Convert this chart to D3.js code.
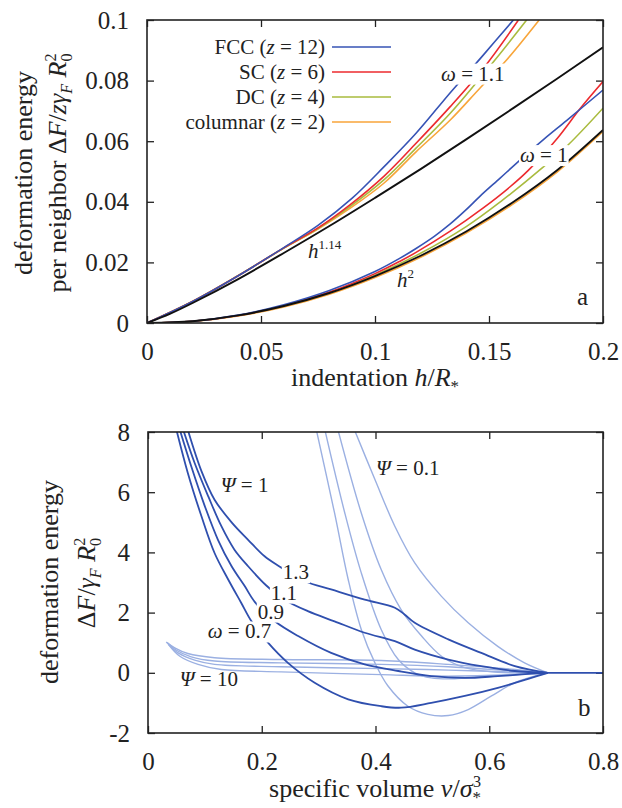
<!DOCTYPE html>
<html><head><meta charset="utf-8">
<script src="https://cdn.jsdelivr.net/npm/d3@7"></script>
<style>
body{margin:0;background:#fff}
svg{display:block}
text{font-family:"Liberation Serif","Times New Roman",Times,serif;fill:#222}
</style>
</head><body>
<svg id="chart" width="622" height="808"></svg>
<script>
// ---------- panel a data ----------
const xTicksA = [0, 0.05, 0.1, 0.15, 0.2];
const yTicksA = [0, 0.02, 0.04, 0.06, 0.08, 0.1];
const legendLabels = [["FCC (", "z", " = 12)"], ["SC (", "z", " = 6)"], ["DC (", "z", " = 4)"], ["columnar (", "z", " = 2)"]];

const hFit114 = [0, 0.01, 0.02, 0.04, 0.06, 0.08, 0.10, 0.12, 0.14, 0.16, 0.18, 0.20];
const fFit114 = [0, 0.0030, 0.0066, 0.0145, 0.0231, 0.0320, 0.0413, 0.0508, 0.0606, 0.0706, 0.0807, 0.0910];
const hFit2 = [0, 0.02, 0.04, 0.06, 0.08, 0.10, 0.12, 0.14, 0.16, 0.18, 0.20];
const fFit2 = [0, 0.0006, 0.0025, 0.0056, 0.0099, 0.0155, 0.0222, 0.0302, 0.0396, 0.0505, 0.0637];

// omega = 1.1
const hW11FCC = [0, 0.02, 0.04, 0.06, 0.075, 0.09, 0.104, 0.118, 0.133, 0.147, 0.1607];
const fW11FCC = [0, 0.0071, 0.0156, 0.0249, 0.0322, 0.0412, 0.0516, 0.0626, 0.0760, 0.0880, 0.1];
const hW11SC = [0, 0.02, 0.04, 0.06, 0.075, 0.089, 0.104, 0.118, 0.133, 0.148, 0.1629];
const fW11SC = [0, 0.0071, 0.0156, 0.0248, 0.0314, 0.0390, 0.0485, 0.0593, 0.0714, 0.0845, 0.1];
const hW11DC = [0, 0.02, 0.04, 0.06, 0.075, 0.089, 0.104, 0.118, 0.133, 0.1526, 0.1665];
const fW11DC = [0, 0.0071, 0.0156, 0.0247, 0.0312, 0.0384, 0.0473, 0.0577, 0.0692, 0.0868, 0.1];
const hW11Col = [0, 0.02, 0.04, 0.06, 0.075, 0.089, 0.104, 0.118, 0.133, 0.146, 0.1577, 0.172];
const fW11Col = [0, 0.0072, 0.0157, 0.0247, 0.0310, 0.0378, 0.0462, 0.0565, 0.0670, 0.0775, 0.0868, 0.1];

// omega = 1
const hW1FCC = [0, 0.02, 0.04, 0.06, 0.08, 0.10, 0.111, 0.118, 0.126, 0.133, 0.140, 0.146, 0.155, 0.162, 0.174, 0.184, 0.2];
const fW1FCC = [0, 0.0006, 0.0026, 0.0060, 0.0107, 0.0170, 0.0214, 0.0246, 0.0286, 0.0327, 0.0374, 0.0418, 0.0479, 0.0527, 0.0606, 0.0668, 0.0769];
const hW1SC = [0, 0.02, 0.04, 0.06, 0.08, 0.10, 0.111, 0.118, 0.133, 0.1475, 0.159, 0.167, 0.180, 0.190, 0.2];
const fW1SC = [0, 0.0006, 0.0025, 0.0057, 0.0102, 0.0163, 0.0204, 0.0233, 0.0303, 0.0380, 0.0448, 0.0502, 0.0610, 0.0708, 0.0797];
const hW1DC = [0, 0.02, 0.04, 0.06, 0.08, 0.10, 0.12, 0.14, 0.155, 0.174, 0.185, 0.2];
const fW1DC = [0, 0.0006, 0.0025, 0.0056, 0.0100, 0.0158, 0.0230, 0.0318, 0.0400, 0.0516, 0.0590, 0.0709];
const hW1Col = [0, 0.02, 0.04, 0.06, 0.08, 0.10, 0.12, 0.14, 0.16, 0.18, 0.20];
const fW1Col = [0, 0.0005, 0.0023, 0.0053, 0.0095, 0.0150, 0.0217, 0.0297, 0.0390, 0.0499, 0.0632];

// ---------- panel b data ----------
const xTicksB = [0, 0.2, 0.4, 0.6, 0.8];
const yTicksB = [-2, 0, 2, 4, 6, 8];

// Psi = 1 (dark), omega = 0.7, 0.9, 1.1, 1.3
const vP1w07 = [0.050, 0.070, 0.094, 0.117, 0.141, 0.164, 0.182, 0.211, 0.246, 0.293, 0.352, 0.410, 0.445, 0.498, 0.557, 0.615, 0.674, 0.703];
const fP1w07 = [8.07, 6.64, 5.20, 3.98, 3.10, 2.32, 1.71, 1.00, 0.33, -0.33, -0.88, -1.11, -1.16, -1.00, -0.77, -0.50, -0.17, 0];
const vP1w09 = [0.056, 0.076, 0.100, 0.123, 0.147, 0.170, 0.188, 0.223, 0.264, 0.322, 0.381, 0.440, 0.498, 0.557, 0.615, 0.674, 0.703];
const fP1w09 = [8.07, 6.86, 5.53, 4.42, 3.54, 2.88, 2.35, 1.71, 1.22, 0.66, 0.28, 0.06, -0.11, -0.17, -0.11, -0.03, 0];
const vP1w11 = [0.062, 0.082, 0.106, 0.129, 0.152, 0.176, 0.208, 0.240, 0.281, 0.328, 0.381, 0.434, 0.469, 0.528, 0.586, 0.645, 0.703];
const fP1w11 = [8.07, 6.97, 5.86, 4.87, 4.09, 3.54, 2.90, 2.43, 2.05, 1.71, 1.33, 1.05, 0.77, 0.44, 0.22, 0.06, 0];
const vP1w13 = [0.070, 0.094, 0.117, 0.147, 0.176, 0.205, 0.229, 0.276, 0.322, 0.381, 0.434, 0.451, 0.469, 0.528, 0.586, 0.645, 0.703];
const fP1w13 = [8.07, 6.70, 5.75, 5.00, 4.42, 3.87, 3.56, 3.04, 2.77, 2.43, 2.16, 1.94, 1.66, 1.11, 0.66, 0.22, 0];
const vTail = [0.703, 0.8];
const fTail = [0, 0];

// Psi = 0.1 (light)
const vP01a = [0.296, 0.328, 0.352, 0.375, 0.399, 0.422, 0.457, 0.492, 0.528, 0.563, 0.604, 0.645, 0.703];
const fP01a = [8.07, 5.31, 3.10, 1.44, 0.33, -0.44, -1.11, -1.38, -1.42, -1.22, -0.77, -0.33, 0];
const vP01b = [0.311, 0.346, 0.375, 0.410, 0.440, 0.469, 0.498, 0.539, 0.586, 0.645, 0.703];
const fP01b = [8.07, 5.31, 3.32, 1.44, 0.44, 0.0, -0.17, -0.20, -0.13, -0.06, 0];
const vP01c = [0.334, 0.375, 0.410, 0.445, 0.481, 0.516, 0.557, 0.615, 0.703];
const fP01c = [8.07, 5.31, 3.43, 2.10, 1.22, 0.55, 0.17, 0.02, 0];
const vP01d = [0.363, 0.399, 0.434, 0.469, 0.516, 0.563, 0.615, 0.662, 0.703];
const fP01d = [8.07, 6.42, 4.87, 3.65, 2.54, 1.66, 0.88, 0.33, 0];

// Psi = 10 (light)
const vP10a = [0.032, 0.047, 0.070, 0.117, 0.234, 0.410, 0.528, 0.645, 0.703];
const fP10a = [1.02, 0.83, 0.64, 0.50, 0.44, 0.41, 0.28, 0.11, 0];
const vP10b = [0.034, 0.050, 0.076, 0.117, 0.234, 0.410, 0.528, 0.645, 0.703];
const fP10b = [1.00, 0.75, 0.53, 0.39, 0.33, 0.28, 0.20, 0.06, 0];
const vP10c = [0.035, 0.053, 0.082, 0.117, 0.234, 0.410, 0.528, 0.645, 0.703];
const fP10c = [0.97, 0.66, 0.42, 0.28, 0.20, 0.14, 0.09, 0.02, 0];
const vP10d = [0.036, 0.056, 0.088, 0.129, 0.234, 0.410, 0.528, 0.645, 0.703];
const fP10d = [0.94, 0.55, 0.28, 0.11, 0.03, -0.06, -0.11, -0.06, 0];

// ---------- styles ----------
const seriesColors = ["#3653b5", "#ec2a2e", "#a9bb3e", "#f8a53a"];
const darkBlue = "#2f4fae", lightBlue = "#9bb0e2", ink = "#222";
const TICK_FS = 25, TITLE_FS = 26, LAB_FS = 21;

const zip = (a, b) => a.map((d, i) => [d, b[i]]);
const svg = d3.select("#chart");

const xA = d3.scaleLinear().domain([0, 0.2]).range([147, 603]);
const yA = d3.scaleLinear().domain([0, 0.1]).range([323, 20]);
const xB = d3.scaleLinear().domain([0, 0.8]).range([148, 603]);
const yB = d3.scaleLinear().domain([-2, 8]).range([733, 432]);

function rich(textSel, parts, fs) {
  parts.forEach(p => {
    const t = textSel.append("tspan").text(p.t);
    if (p.i) t.attr("font-style", "italic");
    if (p.s) t.attr("font-size", fs * p.s);
    if (p.dy) t.attr("dy", p.dy);
    if (p.dx) t.attr("dx", p.dx);
  });
  return textSel;
}

function axes(x, y, xt, yt, clipId) {
  const g = svg.append("g");
  const [x0, x1] = x.range(), [y0, y1] = y.range();
  svg.append("clipPath").attr("id", clipId).append("rect")
    .attr("x", x0).attr("y", y1).attr("width", x1 - x0).attr("height", y0 - y1);
  const fmt = d => String(d);
  const style = s => {
    s.select(".domain").remove();
    s.selectAll("line").attr("stroke", ink).attr("stroke-width", 1.3);
    s.selectAll("text").attr("font-size", TICK_FS).attr("fill", ink)
      .attr("font-family", '"Liberation Serif","Times New Roman",serif');
  };
  g.append("g").attr("transform", `translate(0,${y0})`)
    .call(d3.axisBottom(x).tickValues(xt).tickFormat(fmt).tickSize(-7).tickSizeOuter(0).tickPadding(19)).call(style);
  g.append("g").attr("transform", `translate(0,${y1})`)
    .call(d3.axisTop(x).tickValues(xt).tickFormat("").tickSize(-7).tickSizeOuter(0)).call(style);
  g.append("g").attr("transform", `translate(${x0},0)`)
    .call(d3.axisLeft(y).tickValues(yt).tickFormat(fmt).tickSize(-7).tickSizeOuter(0).tickPadding(18)).call(style);
  g.append("g").attr("transform", `translate(${x1},0)`)
    .call(d3.axisRight(y).tickValues(yt).tickFormat("").tickSize(-7).tickSizeOuter(0)).call(style);
  return g;
}

function frame(x, y) {
  const [x0, x1] = x.range(), [y0, y1] = y.range();
  svg.append("rect").attr("x", x0).attr("y", y1).attr("width", x1 - x0).attr("height", y0 - y1)
    .attr("fill", "none").attr("stroke", ink).attr("stroke-width", 1.6);
}

function drawLine(g, x, y, xs, ys, color, w) {
  const line = d3.line().x(d => x(d[0])).y(d => y(d[1])).curve(d3.curveCatmullRom.alpha(0.5));
  g.append("path").attr("d", line(zip(xs, ys))).attr("fill", "none")
    .attr("stroke", color).attr("stroke-width", w).attr("stroke-linejoin", "round");
}

function label(x, y, parts, box, anchor) {
  const g = svg.append("g");
  const t = g.append("text").attr("x", x).attr("y", y).attr("font-size", LAB_FS)
    .attr("text-anchor", anchor || "start");
  rich(t, parts, LAB_FS);
  if (box) {
    const b = t.node().getBBox();
    g.insert("rect", "text").attr("x", b.x - 1).attr("y", b.y + 2).attr("width", b.width + 2)
      .attr("height", b.height - 3).attr("fill", "#fff");
  }
}

// ================= PANEL A =================
axes(xA, yA, xTicksA, yTicksA, "clipA");
const gA = svg.append("g").attr("clip-path", "url(#clipA)");
const seriesA = [
  [hW11Col, fW11Col, 3], [hW11DC, fW11DC, 2], [hW11SC, fW11SC, 1], [hW11FCC, fW11FCC, 0],
  [hW1Col, fW1Col, 3], [hW1DC, fW1DC, 2], [hW1SC, fW1SC, 1], [hW1FCC, fW1FCC, 0]
];
seriesA.forEach(s => drawLine(gA, xA, yA, s[0], s[1], seriesColors[s[2]], 1.6));
drawLine(gA, xA, yA, hFit114, fFit114, "#111", 1.9);
drawLine(gA, xA, yA, hFit2, fFit2, "#111", 1.9);

// labels panel a
label(xA(0.129), yA(0.0800), [{t: "ω", i: 1}, {t: " = 1.1"}], true);
label(xA(0.1636), yA(0.0531), [{t: "ω", i: 1}, {t: " = 1"}], true);
label(xA(0.0706), yA(0.0215), [{t: "h", i: 1}, {t: "1.14", s: 0.62, dy: -9}], false);
label(xA(0.1096), yA(0.0119), [{t: "h", i: 1}, {t: "2", s: 0.62, dy: -9}], false);
svg.append("text").attr("x", xA(0.1886)).attr("y", yA(0.006)).attr("font-size", 25).text("a");

// legend
const legRowY = d3.scaleLinear().domain([0, 3]).range([47, 122]);
legendLabels.forEach((lab, i) => {
  const y = legRowY(i);
  const t = svg.append("text").attr("x", 325).attr("y", y + 7).attr("font-size", LAB_FS).attr("text-anchor", "end");
  rich(t, [{t: lab[0]}, {t: lab[1], i: 1}, {t: lab[2]}], LAB_FS);
  svg.append("line").attr("x1", 332).attr("x2", 391).attr("y1", y).attr("y2", y)
    .attr("stroke", seriesColors[i]).attr("stroke-width", 1.6);
});
frame(xA, yA);

// axis titles panel a
rich(svg.append("text").attr("x", 375).attr("y", 386).attr("font-size", TITLE_FS).attr("text-anchor", "middle"),
  [{t: "indentation "}, {t: "h", i: 1}, {t: "/"}, {t: "R", i: 1}, {t: "*", s: 0.65, dy: 6}], TITLE_FS);
svg.append("text").attr("transform", "translate(32,173) rotate(-90)").attr("font-size", TITLE_FS)
  .attr("text-anchor", "middle").text("deformation energy");
rich(svg.append("text").attr("transform", "translate(66,173) rotate(-90)").attr("font-size", TITLE_FS).attr("text-anchor", "middle"),
  [{t: "per neighbor Δ"}, {t: "F", i: 1}, {t: "/"}, {t: "zγ", i: 1}, {t: "F", i: 1, s: 0.62, dy: 6}, {t: " "},
   {t: "R", i: 1, dy: -6}, {t: "0", s: 0.62, dy: 6}, {t: "2", s: 0.62, dx: -8, dy: -16}], TITLE_FS);

// ================= PANEL B =================
axes(xB, yB, xTicksB, yTicksB, "clipB");
const gB = svg.append("g").attr("clip-path", "url(#clipB)");
const lightSeries = [[vP01a, fP01a], [vP01b, fP01b], [vP01c, fP01c], [vP01d, fP01d],
                     [vP10a, fP10a], [vP10b, fP10b], [vP10c, fP10c], [vP10d, fP10d]];
lightSeries.forEach(s => drawLine(gB, xB, yB, s[0], s[1], lightBlue, 1.4));
const darkSeries = [[vP1w07, fP1w07], [vP1w09, fP1w09], [vP1w11, fP1w11], [vP1w13, fP1w13], [vTail, fTail]];
darkSeries.forEach(s => drawLine(gB, xB, yB, s[0], s[1], darkBlue, 1.8));

label(xB(0.128), yB(6.02), [{t: "Ψ", i: 1}, {t: " = 1"}], false);
label(xB(0.401), yB(6.58), [{t: "Ψ", i: 1}, {t: " = 0.1"}], false);
label(xB(0.237), yB(3.11), [{t: "1.3"}], true);
label(xB(0.216), yB(2.43), [{t: "1.1"}], true);
label(xB(0.193), yB(1.80), [{t: "0.9"}], true);
label(xB(0.105), yB(1.14), [{t: "ω", i: 1}, {t: " = 0.7"}], true);
label(xB(0.056), yB(-0.45), [{t: "Ψ", i: 1}, {t: " = 10"}], false);
svg.append("text").attr("x", xB(0.756)).attr("y", yB(-1.42)).attr("font-size", 25).text("b");
frame(xB, yB);

rich(svg.append("text").attr("x", 375).attr("y", 797).attr("font-size", TITLE_FS).attr("text-anchor", "middle"),
  [{t: "specific volume "}, {t: "v", i: 1}, {t: "/"}, {t: "σ", i: 1}, {t: "*", s: 0.65, dy: 6},
   {t: "3", s: 0.62, dx: -8, dy: -16}], TITLE_FS);
svg.append("text").attr("transform", "translate(58,582) rotate(-90)").attr("font-size", TITLE_FS)
  .attr("text-anchor", "middle").text("deformation energy");
rich(svg.append("text").attr("transform", "translate(95,583) rotate(-90)").attr("font-size", TITLE_FS).attr("text-anchor", "middle"),
  [{t: "Δ"}, {t: "F", i: 1}, {t: "/"}, {t: "γ", i: 1}, {t: "F", i: 1, s: 0.62, dy: 6}, {t: " "},
   {t: "R", i: 1, dy: -6}, {t: "0", s: 0.62, dy: 6}, {t: "2", s: 0.62, dx: -8, dy: -16}], TITLE_FS);
</script>
</body></html>
